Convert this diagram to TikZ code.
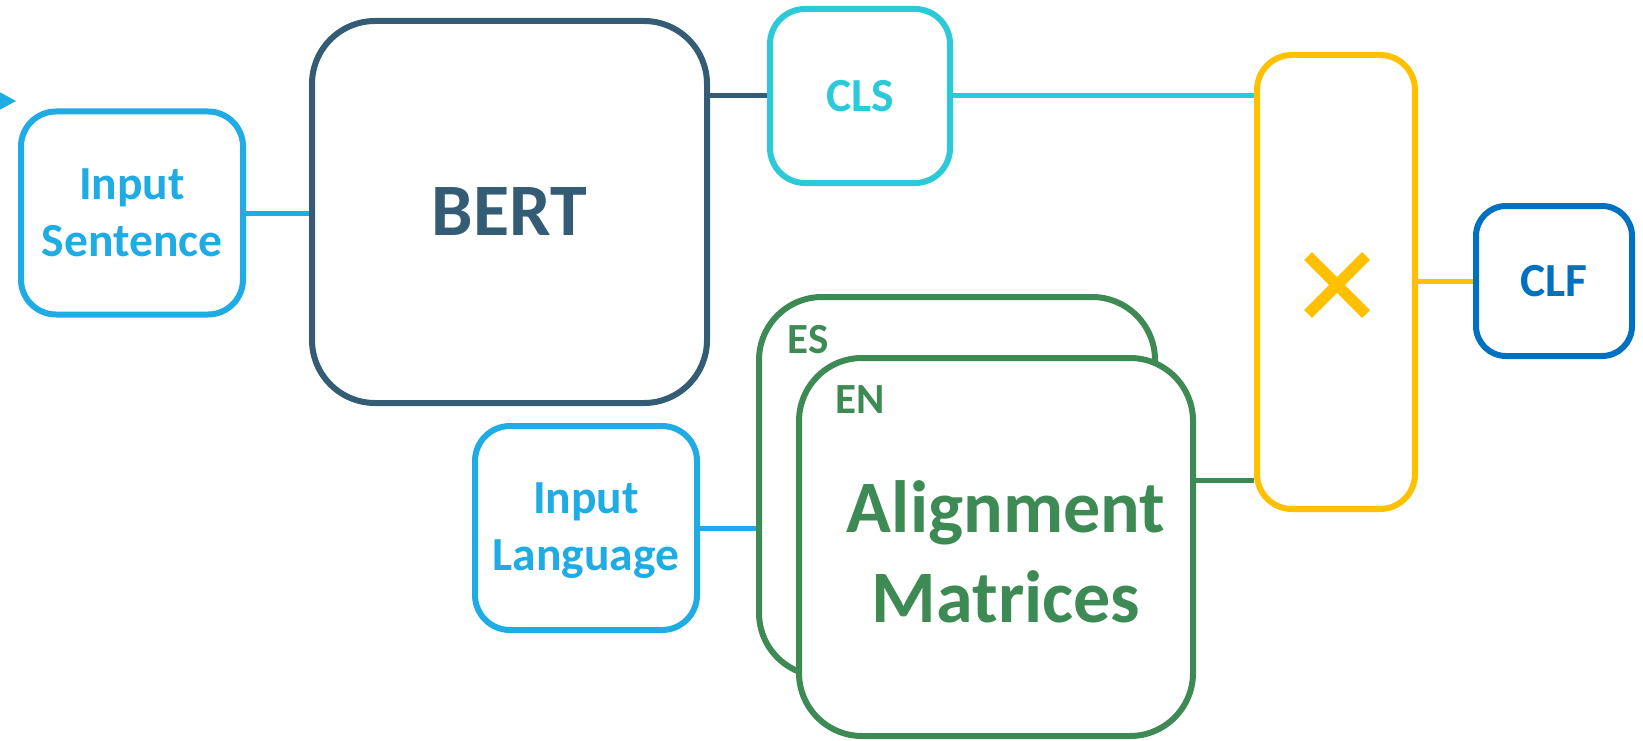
\documentclass[tikz,border=0pt]{standalone}
\usepackage{fontspec}
\setmainfont{Carlito}
\definecolor{lblue}{HTML}{1FABE3}
\definecolor{bertc}{HTML}{345C74}
\definecolor{clsc}{HTML}{2CCAD8}
\definecolor{multc}{HTML}{FFC000}
\definecolor{clfc}{HTML}{0070C0}
\definecolor{grn}{HTML}{3E8A54}
\tikzset{
  box/.style={draw=#1, text=#1, line width=6pt, fill=white, inner sep=0pt, align=center},
  conn/.style={draw=#1, line width=5pt},
  txt/.style={font=\bfseries\fontsize{47.5}{57}\selectfont},
  big/.style={font=\bfseries\fontsize{74}{90}\selectfont},
  small/.style={font=\bfseries\fontsize{43}{50}\selectfont}
}
\begin{document}
\begin{tikzpicture}[x=1pt,y=-1pt]
\clip (0,0) rectangle (1643,741);
% small arrowhead at the left edge
\fill[lblue] (-6,89) -- (16,101) -- (-6,113) -- cycle;
% boxes
\node[box=lblue, rounded corners=35pt, txt, minimum width=222pt, minimum height=203pt] (insent) at (132,213) {Input\\Sentence};
\node[box=bertc, rounded corners=63pt, big, minimum width=395pt, minimum height=382pt] (bert) at (509.5,212) {BERT};
\node[box=clsc, rounded corners=35pt, txt, minimum width=180pt, minimum height=174pt] (cls) at (860,96) {CLS};
\node[box=multc, rounded corners=35pt, minimum width=158pt, minimum height=454pt] (mult) at (1336,282) {};
\node[box=clfc, rounded corners=30pt, txt, minimum width=156pt, minimum height=150pt] (clf) at (1554,281) {CLF};
\node[box=lblue, rounded corners=35pt, txt, minimum width=222pt, minimum height=204pt] (inlang) at (586,528) {};
\node[text=lblue, txt, align=center, inner sep=0pt] (inlanglab) at (586,531) {Input\\Language};
\node[box=grn, rounded corners=63pt, minimum width=396pt, minimum height=379pt] (es) at (957,486.5) {};
\node[text=grn, small, inner sep=0pt] (eslab) at (808,340) {ES};
\node[box=grn, rounded corners=63pt, minimum width=394pt, minimum height=378pt] (en) at (996,547) {};
\node[text=grn, small, inner sep=0pt] (enlab) at (860,400) {EN};
\node[text=grn, big, align=center, inner sep=0pt] (amlab) at (1006,552) {Alignment\\Matrices};
% multiplication sign
\coordinate (xc) at (1337,285);
\draw[multc, line width=11pt] ([shift={(-29pt,29pt)}]xc) -- ([shift={(29pt,-29pt)}]xc)
  ([shift={(-29pt,-29pt)}]xc) -- ([shift={(29pt,29pt)}]xc);
% connectors
\draw[conn=lblue] (insent.east) -- (insent.east -| bert.west);
\draw[conn=bertc] (cls.west -| bert.east) -- (cls.west);
\draw[conn=clsc] (cls.east) -- (cls.east -| mult.west);
\draw[conn=grn] ([yshift=67pt]en.east) -- ([yshift=67pt]en.east -| mult.west);
\draw[conn=lblue] (inlang.east) -- (inlang.east -| es.west);
\draw[conn=multc] (mult.east |- clf.west) -- (clf.west);
\end{tikzpicture}
\end{document}
